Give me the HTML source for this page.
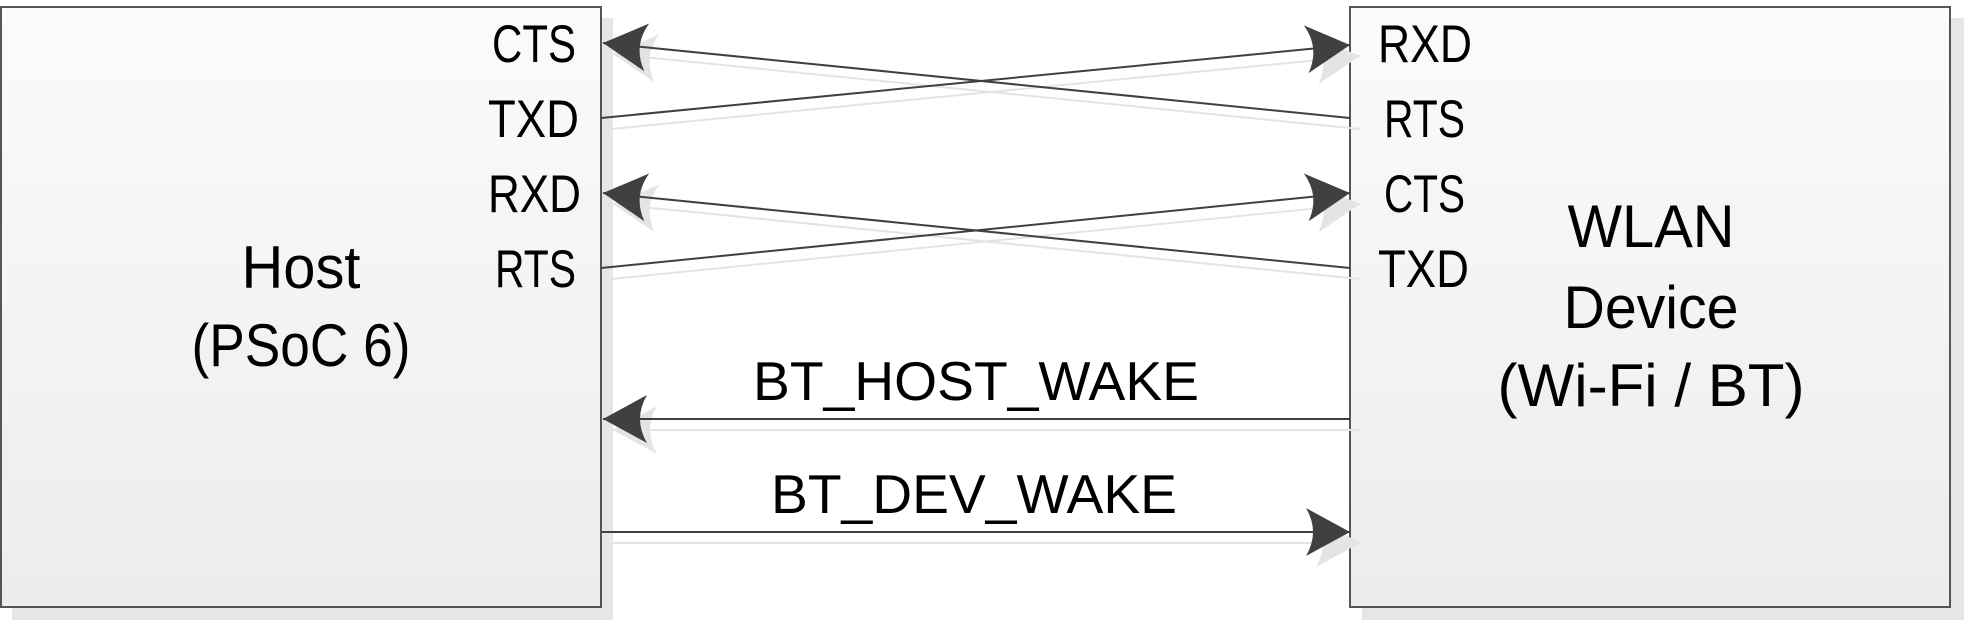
<!DOCTYPE html>
<html><head><meta charset="utf-8"><style>
html,body{margin:0;padding:0;background:#fff;}
svg{display:block;}
text{font-family:"Liberation Sans",sans-serif;fill:#000;}
</style></head><body>
<svg width="1964" height="620" viewBox="0 0 1964 620" xmlns="http://www.w3.org/2000/svg">
<defs>
<linearGradient id="g" x1="0" y1="0" x2="0" y2="1">
<stop offset="0" stop-color="#fbfbfb"/><stop offset="1" stop-color="#ececec"/>
</linearGradient>
<marker id="a" markerUnits="userSpaceOnUse" markerWidth="60" markerHeight="60" refX="0" refY="0" viewBox="-50 -30 60 60" orient="auto">
<path d="M0,0 L-44,-24 Q-30,0 -44,24 Z" fill="#404040"/>
</marker>
<marker id="s" markerUnits="userSpaceOnUse" markerWidth="60" markerHeight="60" refX="0" refY="0" viewBox="-50 -30 60 60" orient="auto">
<path d="M0,0 L-44,-24 Q-30,0 -44,24 Z" fill="#e4e4e4"/>
</marker>
</defs>
<rect x="12" y="18" width="601" height="602" fill="#e6e6e6"/>
<rect x="1362" y="18" width="602" height="602" fill="#e6e6e6"/>
<rect x="1" y="7" width="600" height="600" fill="url(#g)" stroke="#555" stroke-width="2"/>
<rect x="1350" y="7" width="600" height="600" fill="url(#g)" stroke="#555" stroke-width="2"/>
<g transform="translate(10,11)" stroke="#e4e4e4" stroke-width="2" fill="none">
<line x1="1350" y1="118" x2="603" y2="43" marker-end="url(#s)"/>
<line x1="601" y1="118" x2="1350" y2="45" marker-end="url(#s)"/>
<line x1="1350" y1="268" x2="603" y2="193" marker-end="url(#s)"/>
<line x1="601" y1="268" x2="1350" y2="193" marker-end="url(#s)"/>
<line x1="1350" y1="419" x2="603" y2="419" marker-end="url(#s)"/>
<line x1="601" y1="532" x2="1350" y2="532" marker-end="url(#s)"/>
</g>
<g stroke="#404040" stroke-width="2" fill="none">
<line x1="1350" y1="118" x2="603" y2="43" marker-end="url(#a)"/>
<line x1="601" y1="118" x2="1350" y2="45" marker-end="url(#a)"/>
<line x1="1350" y1="268" x2="603" y2="193" marker-end="url(#a)"/>
<line x1="601" y1="268" x2="1350" y2="193" marker-end="url(#a)"/>
<line x1="1350" y1="419" x2="603" y2="419" marker-end="url(#a)"/>
<line x1="601" y1="532" x2="1350" y2="532" marker-end="url(#a)"/>
</g>
<g font-size="53" lengthAdjust="spacingAndGlyphs">
<text x="492" y="62" textLength="84" lengthAdjust="spacingAndGlyphs">CTS</text>
<text x="488" y="137" textLength="91" lengthAdjust="spacingAndGlyphs">TXD</text>
<text x="488" y="212" textLength="93" lengthAdjust="spacingAndGlyphs">RXD</text>
<text x="495" y="287" textLength="81" lengthAdjust="spacingAndGlyphs">RTS</text>
<text x="1378" y="62" textLength="94" lengthAdjust="spacingAndGlyphs">RXD</text>
<text x="1384" y="137" textLength="81" lengthAdjust="spacingAndGlyphs">RTS</text>
<text x="1384" y="212" textLength="81" lengthAdjust="spacingAndGlyphs">CTS</text>
<text x="1378" y="287" textLength="91" lengthAdjust="spacingAndGlyphs">TXD</text>
</g>
<g font-size="60" text-anchor="middle">
<text x="301" y="288" textLength="119" lengthAdjust="spacingAndGlyphs">Host</text>
<text x="301" y="366" textLength="219" lengthAdjust="spacingAndGlyphs">(PSoC 6)</text>
<text x="1651" y="247" textLength="167" lengthAdjust="spacingAndGlyphs">WLAN</text>
<text x="1651" y="328" textLength="175" lengthAdjust="spacingAndGlyphs">Device</text>
<text x="1651" y="406" textLength="307" lengthAdjust="spacingAndGlyphs">(Wi-Fi / BT)</text>
</g>
<g font-size="55" text-anchor="middle">
<text x="976" y="400" textLength="446" lengthAdjust="spacingAndGlyphs">BT_HOST_WAKE</text>
<text x="974" y="513" textLength="406" lengthAdjust="spacingAndGlyphs">BT_DEV_WAKE</text>
</g>
</svg>
</body></html>
